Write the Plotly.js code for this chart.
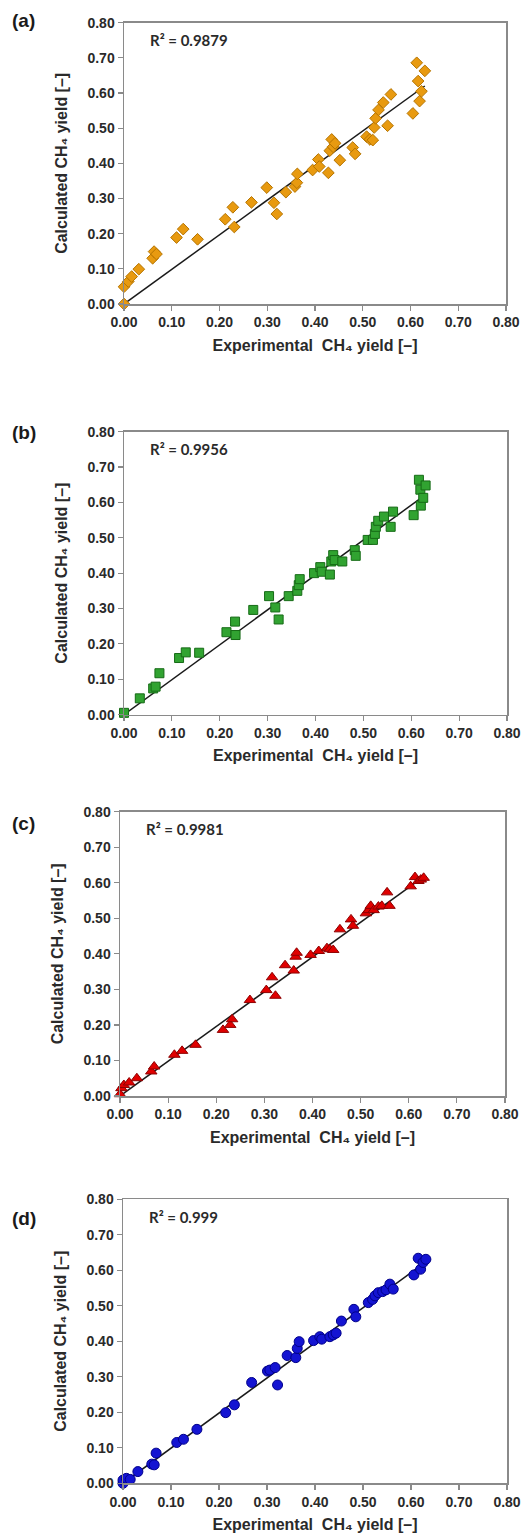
<!DOCTYPE html>
<html>
<head>
<meta charset="utf-8">
<script src="https://cdn.plot.ly/plotly-3.0.1.min.js"></script>
<style>html,body{margin:0;padding:0;background:#fff;}#chart{width:528px;height:1539px;}</style>
</head>
<body>
<div id="chart"></div>
<script>
// ---- Data ----
const panelLabels = ["(a)", "(b)", "(c)", "(d)"];
const r2Labels = ["R² = 0.9879", "R² = 0.9956", "R² = 0.9981", "R² = 0.999"];
const xTitle = "Experimental  CH₄ yield [–]";
const yTitle = "Calculated CH₄ yield [–]";
const tickVals = [0, 0.1, 0.2, 0.3, 0.4, 0.5, 0.6, 0.7, 0.8];

const expA = [0, 0, 0.009, 0.016, 0.031, 0.060, 0.063, 0.068, 0.110, 0.124, 0.154, 0.212, 0.228, 0.231, 0.267, 0.299, 0.314, 0.320, 0.339, 0.358, 0.362, 0.363, 0.395, 0.407, 0.409, 0.428, 0.431, 0.435, 0.438, 0.442, 0.452, 0.479, 0.484, 0.508, 0.515, 0.521, 0.524, 0.527, 0.533, 0.543, 0.552, 0.559, 0.605, 0.613, 0.616, 0.619, 0.623, 0.630];
const calcA = [0, 0.049, 0.064, 0.078, 0.099, 0.130, 0.149, 0.142, 0.189, 0.213, 0.184, 0.241, 0.275, 0.219, 0.289, 0.331, 0.288, 0.256, 0.318, 0.334, 0.345, 0.370, 0.381, 0.411, 0.391, 0.373, 0.436, 0.468, 0.447, 0.457, 0.409, 0.445, 0.427, 0.476, 0.468, 0.466, 0.502, 0.528, 0.552, 0.573, 0.507, 0.596, 0.542, 0.686, 0.634, 0.577, 0.605, 0.663];
const fitXA = [0, 0.63];
const fitYA = [0, 0.62];

const expB = [0, 0.033, 0.061, 0.066, 0.074, 0.115, 0.129, 0.157, 0.214, 0.232, 0.233, 0.270, 0.303, 0.316, 0.323, 0.344, 0.362, 0.365, 0.367, 0.397, 0.410, 0.413, 0.430, 0.433, 0.437, 0.440, 0.456, 0.482, 0.484, 0.509, 0.520, 0.524, 0.526, 0.531, 0.543, 0.557, 0.562, 0.605, 0.616, 0.619, 0.620, 0.625, 0.630];
const calcB = [0.005, 0.046, 0.074, 0.079, 0.117, 0.160, 0.176, 0.175, 0.233, 0.263, 0.225, 0.296, 0.335, 0.303, 0.269, 0.335, 0.350, 0.366, 0.383, 0.400, 0.417, 0.404, 0.396, 0.433, 0.451, 0.437, 0.433, 0.465, 0.449, 0.494, 0.494, 0.511, 0.531, 0.548, 0.560, 0.531, 0.574, 0.564, 0.664, 0.636, 0.591, 0.613, 0.648];
const fitXB = [0, 0.63];
const fitYB = [0, 0.622];

const expC = [0, 0.003, 0.008, 0.019, 0.035, 0.065, 0.071, 0.113, 0.129, 0.157, 0.214, 0.229, 0.233, 0.270, 0.304, 0.316, 0.323, 0.343, 0.361, 0.365, 0.367, 0.396, 0.413, 0.430, 0.436, 0.443, 0.457, 0.480, 0.484, 0.511, 0.517, 0.521, 0.527, 0.537, 0.544, 0.555, 0.560, 0.604, 0.613, 0.620, 0.625, 0.631];
const calcC = [0.005, 0.022, 0.031, 0.038, 0.050, 0.069, 0.083, 0.116, 0.127, 0.144, 0.186, 0.200, 0.216, 0.270, 0.298, 0.334, 0.282, 0.368, 0.353, 0.392, 0.403, 0.397, 0.408, 0.416, 0.413, 0.411, 0.469, 0.497, 0.479, 0.514, 0.523, 0.535, 0.523, 0.533, 0.535, 0.573, 0.535, 0.590, 0.616, 0.605, 0.609, 0.614];
const fitXC = [0, 0.632];
const fitYC = [0, 0.618];

const expD = [0, 0, 0.007, 0.015, 0.031, 0.060, 0.065, 0.069, 0.112, 0.126, 0.154, 0.214, 0.232, 0.268, 0.301, 0.306, 0.317, 0.322, 0.342, 0.360, 0.363, 0.367, 0.397, 0.410, 0.414, 0.431, 0.438, 0.444, 0.455, 0.481, 0.485, 0.511, 0.520, 0.525, 0.532, 0.541, 0.548, 0.556, 0.563, 0.606, 0.615, 0.620, 0.625, 0.631];
const calcD = [0, 0.009, 0.014, 0.011, 0.033, 0.054, 0.052, 0.085, 0.115, 0.124, 0.152, 0.199, 0.221, 0.284, 0.316, 0.319, 0.326, 0.277, 0.360, 0.354, 0.380, 0.399, 0.402, 0.413, 0.406, 0.413, 0.418, 0.423, 0.457, 0.490, 0.469, 0.509, 0.518, 0.528, 0.537, 0.540, 0.545, 0.561, 0.547, 0.587, 0.634, 0.603, 0.622, 0.631];
const fitXD = [0, 0.632];
const fitYD = [0, 0.625];

// ---- Layout helpers ----
const W = 528, H = 1539;
// plot-area boxes in pixels [x0, x1, yTop, yBottom]
const boxes = [
  [124, 506, 22.7, 304],
  [124, 507, 431.7, 714.6],
  [120, 505, 811.7, 1096],
  [123, 507, 1199.3, 1483.3]
];
const panelLabelY = [21, 433, 823, 1218];

const markerStyles = [
  {symbol: 'diamond', size: 9, color: '#E89A10', line: {color: '#B57400', width: 1}},
  {symbol: 'square', size: 9, color: '#31A331', line: {color: '#166B16', width: 1}},
  {symbol: 'triangle-up', size: 10, color: '#E00000', line: {color: '#8E0000', width: 1}},
  {symbol: 'circle', size: 10, color: '#1414D2', line: {color: '#00008A', width: 1}}
];

const series = [
  [expA, calcA, fitXA, fitYA],
  [expB, calcB, fitXB, fitYB],
  [expC, calcC, fitXC, fitYC],
  [expD, calcD, fitXD, fitYD]
];

const FONT = 'Liberation Sans, Arial, sans-serif';
const data = [];
const layout = {
  width: W, height: H,
  margin: {l: 0, r: 0, t: 0, b: 0},
  paper_bgcolor: '#fff', plot_bgcolor: '#fff',
  showlegend: false,
  annotations: []
};

series.forEach((s, i) => {
  const n = i === 0 ? '' : String(i + 1);
  const xa = 'x' + n, ya = 'y' + n;
  data.push({
    x: s[2], y: s[3], xaxis: xa, yaxis: ya, type: 'scatter', mode: 'lines',
    line: {color: '#1a1a1a', width: 1.5}, hoverinfo: 'skip'
  });
  data.push({
    x: s[0], y: s[1], xaxis: xa, yaxis: ya, type: 'scatter', mode: 'markers',
    marker: markerStyles[i], cliponaxis: false
  });
  const b = boxes[i];
  const axCommon = {
    range: [0, 0.8], tickvals: tickVals, tickformat: '.2f',
    showgrid: false, zeroline: false,
    showline: true, linecolor: '#8a8a8a', linewidth: 1.5, mirror: true,
    ticks: 'outside', ticklen: 5, tickcolor: '#8a8a8a', tickwidth: 1.2,
    tickfont: {family: FONT, size: 14, color: '#2a2a2a', weight: 'bold'},
    fixedrange: true
  };
  layout['xaxis' + n] = Object.assign({}, axCommon, {
    domain: [b[0] / W, b[1] / W], anchor: ya,
    title: {text: xTitle, standoff: 10,
            font: {family: FONT, size: 16, color: '#2a2a2a', weight: 'bold'}}
  });
  layout['yaxis' + n] = Object.assign({}, axCommon, {
    domain: [1 - b[3] / H, 1 - b[2] / H], anchor: xa,
    title: {text: yTitle, standoff: 16,
            font: {family: FONT, size: 16, color: '#2a2a2a', weight: 'bold'}}
  });
  layout.annotations.push({
    xref: xa, yref: ya, x: 0.05, y: 0.75, xanchor: 'left', yanchor: 'middle',
    text: r2Labels[i], showarrow: false,
    font: {family: 'Lato, Open Sans, sans-serif', size: 15, color: '#2a2a2a', weight: 'bold'}
  });
  layout.annotations.push({
    xref: 'paper', yref: 'paper', x: 10 / W, y: 1 - panelLabelY[i] / H,
    xanchor: 'left', yanchor: 'middle',
    text: panelLabels[i], showarrow: false,
    font: {family: FONT, size: 19, color: '#1a1a1a', weight: 'bold'}
  });
});

Plotly.newPlot('chart', data, layout, {staticPlot: true, displayModeBar: false});
</script>
</body>
</html>
